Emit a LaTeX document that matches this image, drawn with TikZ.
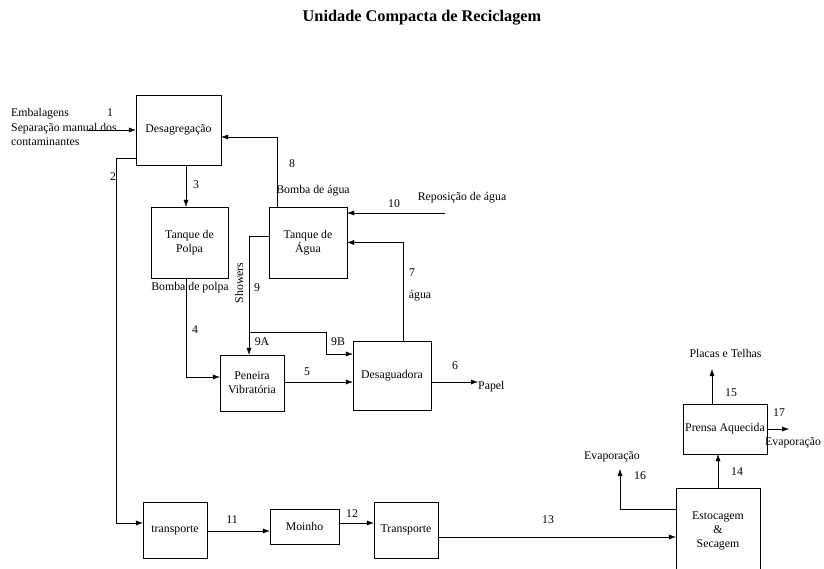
\documentclass[tikz,border=0pt]{standalone}
\usepackage{fontspec}
\setmainfont{Liberation Serif}
\usetikzlibrary{positioning, arrows.meta}

\begin{document}
\begin{tikzpicture}[x=1pt, y=-1pt, >={Latex[length=7pt,width=5pt]}, thin,
  box/.style={draw, rectangle, align=center, inner sep=1pt, font=\fontsize{11.8}{14}\selectfont},
  lbl/.style={inner sep=1pt, font=\fontsize{11.8}{14.5}\selectfont}]
\useasboundingbox (0,0) rectangle (824,569);
\clip (0,0) rectangle (824,569);

\node[font=\fontsize{16.3}{19}\selectfont\bfseries] (title) at (422,18) {Unidade Compacta de Reciclagem};

% boxes
\node[box, minimum width=85, minimum height=70] (desag) at (178.5,130) {Desagregação};
\node[box, minimum width=77, minimum height=71] (tpolpa) at (189.5,242.5) {Tanque de\\Polpa};
\node[box, minimum width=78, minimum height=71] (tagua) at (308,242.5) {Tanque de\\Água};
\node[box, minimum width=64, minimum height=56] (peneira) at (252,383) {Peneira\\Vibratória};
\node[box, minimum width=78, minimum height=69] (desagua) at (392,375.5) {Desaguadora};
\node[box, minimum width=64, minimum height=56] (transp1) at (175,530) {transporte};
\node[box, minimum width=69, minimum height=35] (moinho) at (304.5,526.5) {Moinho};
\node[box, minimum width=64, minimum height=56] (transp2) at (406,530) {Transporte};
\node[box, minimum width=84, minimum height=86] (estoc) at (718,531) {Estocagem\\\&\\Secagem};
\node[box, minimum width=84, minimum height=50] (prensa) at (725,429) {Prensa Aquecida};

% free ends
\coordinate (in1) at (88,130);
\coordinate (rep) at (445,213);
\coordinate (papel) at (478,382);
\coordinate (j9) at (249,332);
\coordinate (evap1) at (620,469);
\coordinate (placas) at (712,369);
\coordinate (evap2) at (789,429);

% flows
\draw[->] (in1) -- (desag.west);
\draw[->] ([yshift=-28pt]desag.west) -| ([xshift=-27pt,yshift=7pt]transp1.west) -- ([yshift=7pt]transp1.west);
\draw[->] ([xshift=7.5pt]desag.south) -- ([xshift=7.5pt]desag.south |- tpolpa.north);
\draw[->] ([xshift=-3.5pt]tpolpa.south) |- ([yshift=6pt]peneira.west);
\draw[->] ([yshift=1pt]peneira.east) -- ([yshift=1pt]peneira.east -| desagua.west);
\draw[->] ([yshift=-6.5pt]desagua.east) -- (papel);
\draw[->] ([xshift=11pt]desagua.north) |- (tagua.east);
\draw[->] (rep) -- (rep -| tagua.east);
\draw[->] ([xshift=-31pt]tagua.north) |- ([yshift=-7pt]desag.east);
\draw[->] ([yshift=6.5pt]tagua.west) -| ([xshift=-3pt]peneira.north);
\draw[->] (j9) -| ([xshift=-27pt,yshift=21.5pt]desagua.west) -- ([yshift=21.5pt]desagua.west);
\draw[->] ([yshift=-1pt]transp1.east) -- ([yshift=-1pt]transp1.east -| moinho.west);
\draw[->] ([yshift=3.5pt]moinho.east) -- ([yshift=3.5pt]moinho.east -| transp2.west);
\draw[->] ([yshift=-7pt]transp2.east) -- ([yshift=-7pt]transp2.east -| estoc.west);
\draw[->] ([yshift=22pt]estoc.west) -| (evap1);
\draw[->] (estoc.north) -- (estoc.north |- prensa.south);
\draw[->] ([xshift=-13pt]prensa.north) -- (placas);
\draw[->] (prensa.east) -- (evap2);

% labels
\node[lbl, align=left, anchor=west] (emb) at (10,127) {Embalagens\\Separação manual dos\\contaminantes};
\node[lbl] (n1) at (110,113) {1};
\node[lbl] (n2) at (113,177) {2};
\node[lbl] (n3) at (196,185) {3};
\node[lbl] (n4) at (195,330) {4};
\node[lbl] (n5) at (307,372) {5};
\node[lbl] (n6) at (455,366) {6};
\node[lbl] (n7) at (412,273) {7};
\node[lbl] (agua) at (420,296) {água};
\node[lbl] (n8) at (292,164) {8};
\node[lbl] (bagua) at (313,191) {Bomba de água};
\node[lbl] (n10) at (394,204) {10};
\node[lbl] (repos) at (462,198) {Reposição de água};
\node[lbl] (bpolpa) at (190,288) {Bomba de polpa};
\node[lbl, rotate=90] (showers) at (239,283) {Showers};
\node[lbl] (n9) at (257,288) {9};
\node[lbl] (n9a) at (262,342) {9A};
\node[lbl] (n9b) at (338,342) {9B};
\node[lbl, anchor=west] (ppl) at (477,387) {Papel};
\node[lbl] (n11) at (232,520) {11};
\node[lbl] (n12) at (352,514) {12};
\node[lbl] (n13) at (548,520) {13};
\node[lbl] (n16) at (640,476) {16};
\node[lbl] (evapl) at (612,457) {Evaporação};
\node[lbl] (n14) at (737,472) {14};
\node[lbl] (n15) at (731,393) {15};
\node[lbl] (pt) at (725.5,353) {Placas e Telhas};
\node[lbl] (n17) at (779,413) {17};
\node[lbl, anchor=west] (evapr) at (764,443) {Evaporação};

\end{tikzpicture}
\end{document}
